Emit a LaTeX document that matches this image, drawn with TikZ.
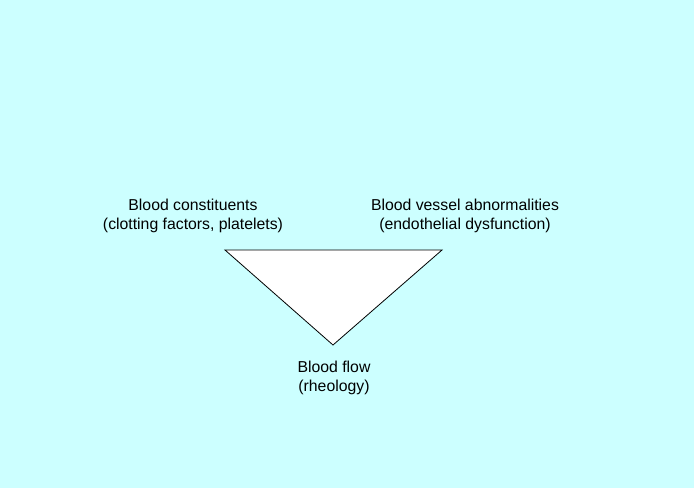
\documentclass[tikz,border=0pt]{standalone}
\usepackage{fontspec}
\setmainfont{Liberation Sans}
\definecolor{bgcyan}{RGB}{204,255,255}
\begin{document}
\begin{tikzpicture}[x=1pt,y=-1pt,
  lbl/.style={align=center,inner sep=0pt,font=\fontsize{15.8}{19.5}\selectfont}]
\fill[bgcyan] (0,0) rectangle (694,488);
\useasboundingbox (0,0) rectangle (694,488);
\coordinate (tl) at (225,250);
\coordinate (tr) at (442,250);
\coordinate (tb) at (333,345);
\draw[fill=white,line width=0.8pt,line join=miter] (tl) -- (tr) -- (tb) -- cycle;
\node[lbl] (bc) at (193,216) {Blood constituents\\(clotting factors, platelets)};
\node[lbl] (bv) at (465,216) {Blood vessel abnormalities\\(endothelial dysfunction)};
\node[lbl] (bf) at (334,378) {Blood flow\\(rheology)};
\end{tikzpicture}
\end{document}
